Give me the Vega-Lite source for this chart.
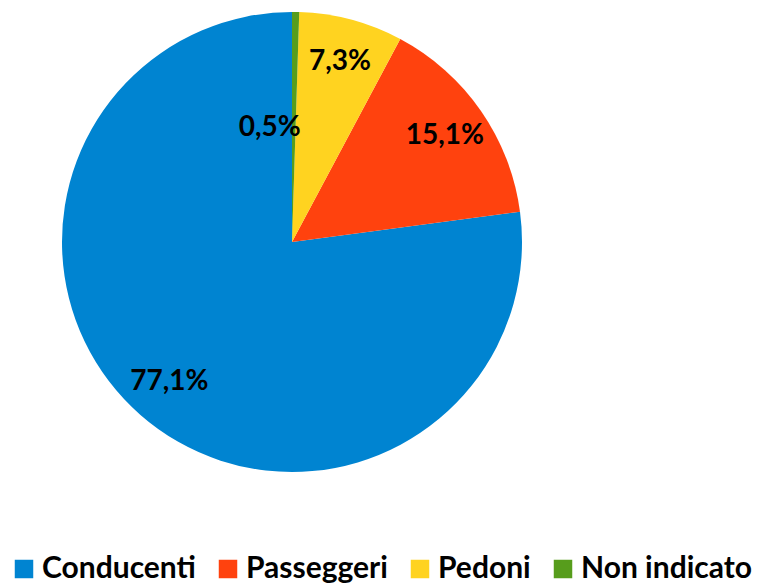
{
  "$schema": "https://vega.github.io/schema/vega-lite/v6.json",
  "autosize": {"type": "none"},
  "width": 584,
  "height": 484,
  "padding": {"left": 0, "top": 0, "right": 173, "bottom": 103},
  "background": "white",
  "config": {
    "view": {"stroke": null},
    "locale": {"number": {"decimal": ",", "thousands": ".", "grouping": [3], "currency": ["€", ""]}}
  },
  "data": {
    "values": [
      {"category": "Conducenti", "value": 0.771},
      {"category": "Passeggeri", "value": 0.151},
      {"category": "Pedoni", "value": 0.073},
      {"category": "Non indicato", "value": 0.005}
    ]
  },
  "encoding": {
    "theta": {"field": "value", "type": "quantitative", "stack": true},
    "order": {"field": "value", "type": "quantitative", "sort": "ascending"}
  },
  "layer": [
    {
      "mark": {"type": "arc", "outerRadius": 230},
      "encoding": {
        "color": {
          "field": "category",
          "type": "nominal",
          "scale": {
            "domain": ["Conducenti", "Passeggeri", "Pedoni", "Non indicato"],
            "range": ["#0084D1", "#FF420E", "#FFD320", "#579D1C"]
          },
          "legend": {
            "title": null,
            "orient": "none",
            "direction": "horizontal",
            "legendX": 9,
            "legendY": 554,
            "padding": 0,
            "gridAlign": "none",
            "symbolType": "square",
            "symbolSize": 342,
            "symbolStrokeWidth": 0,
            "symbolOpacity": 1,
            "labelFont": "Lato",
            "labelFontWeight": "bold",
            "labelFontSize": 30,
            "labelColor": "#000000",
            "labelOffset": 3,
            "columnPadding": 17,
            "labelLimit": 300
          }
        }
      }
    },
    {
      "mark": {"type": "text", "radius": 186, "font": "Lato", "fontWeight": "bold", "fontSize": 28, "color": "#000000", "baseline": "middle", "align": "center"},
      "encoding": {
        "text": {"field": "value", "type": "quantitative", "format": ".1%"},
        "opacity": {"condition": {"test": "datum.category === 'Non indicato'", "value": 0}, "value": 1}
      }
    },
    {
      "mark": {"type": "text", "radius": 114, "dx": -24, "font": "Lato", "fontWeight": "bold", "fontSize": 28, "color": "#000000", "baseline": "middle", "align": "center"},
      "encoding": {
        "text": {"field": "value", "type": "quantitative", "format": ".1%"},
        "opacity": {"condition": {"test": "datum.category === 'Non indicato'", "value": 1}, "value": 0}
      }
    }
  ]
}
